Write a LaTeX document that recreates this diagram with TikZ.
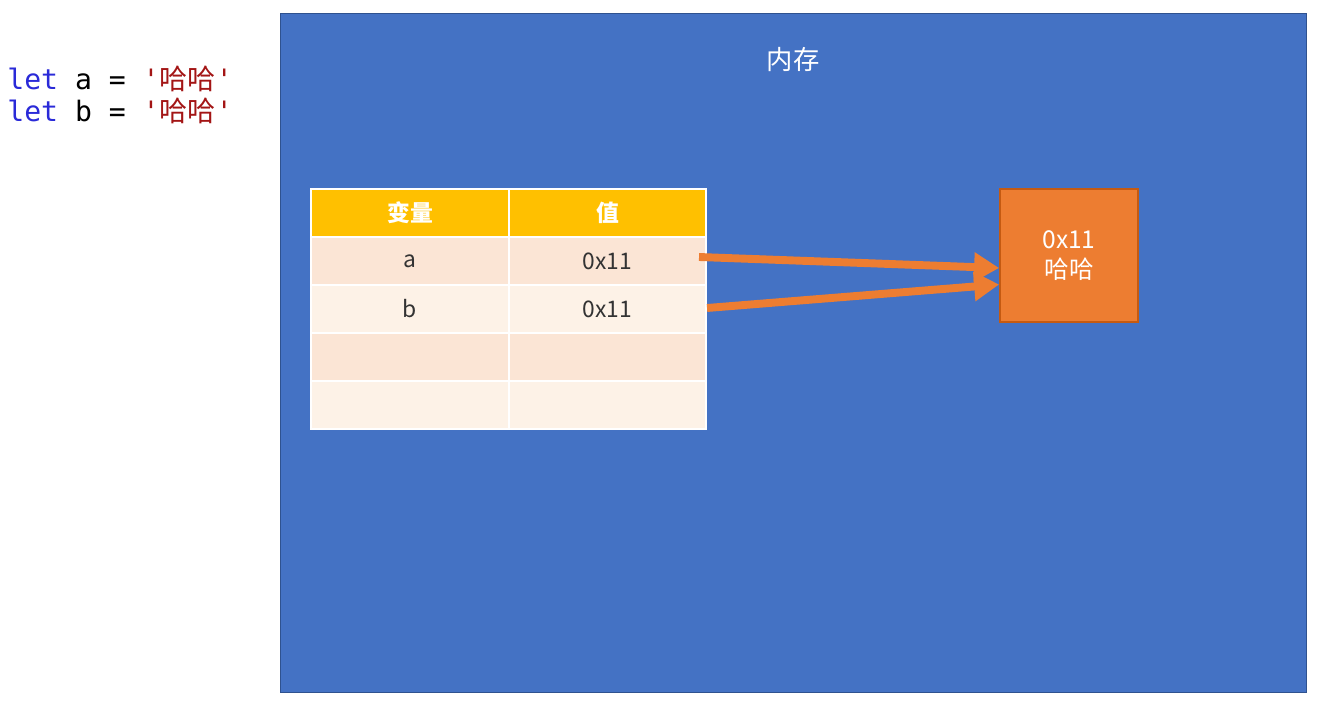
\documentclass[tikz,border=0pt]{standalone}
\usepackage{fontspec}
\setmainfont{Noto Sans CJK SC}
\newfontfamily\codefont{DejaVu Sans Mono}
\newfontfamily\cjk{Noto Sans CJK SC}
\usetikzlibrary{arrows.meta}

\definecolor{memblue}{HTML}{4472C4}
\definecolor{memedge}{HTML}{2F528F}
\definecolor{headgold}{HTML}{FFC000}
\definecolor{rowdark}{HTML}{FBE5D5}
\definecolor{rowlight}{HTML}{FDF2E7}
\definecolor{valorange}{HTML}{ED7D31}
\definecolor{valedge}{HTML}{C55A11}
\definecolor{kwblue}{HTML}{2A2AD8}
\definecolor{strred}{HTML}{A31515}

\tikzset{
  every cell/.style={rectangle, draw=white, line width=1.2pt, minimum height=0.96cm,
    inner sep=0pt, font=\fontsize{13}{15}\selectfont, text=black!80},
  cell name/.style={every cell, minimum width=3.96cm},
  cell value/.style={every cell, minimum width=3.94cm},
  head/.style={fill=headgold, text=white, font=\fontsize{13}{15}\selectfont\bfseries},
  row 1/.style={fill=rowdark},
  row 2/.style={fill=rowlight},
  row 3/.style={fill=rowdark},
  row 4/.style={fill=rowlight},
  pointer/.style={draw=valorange, line width=4.5pt,
    -{Triangle[length=5mm, width=5.6mm]}}
}

\begin{document}
\begin{tikzpicture}[x=0.02cm, y=-0.02cm]

    \useasboundingbox (0,0) rectangle (1339,709);

    % code on the left
    \node [anchor=base west, inner sep=0pt, font=\codefont\fontsize{16}{18}\selectfont] (line-a) at (7,90)
      {{\color{kwblue}let} a = {\color{strred}'{\cjk 哈哈}'}};
    \node [anchor=base west, inner sep=0pt, font=\codefont\fontsize{16}{18}\selectfont] (line-b) at (7,122)
      {{\color{kwblue}let} b = {\color{strred}'{\cjk 哈哈}'}};

    % memory area
    \node [rectangle, draw=memedge, fill=memblue, line width=0.6pt, inner sep=0pt,
      minimum width=20.54cm, minimum height=13.6cm] (memory) at (793.5,353) {};
    \node [text=white, font=\fontsize{15}{17}\selectfont] (memory-title) at (793,60) {内存};

    % table of variables
    \node [cell name, head] (name-0) at (410,213) {变量};
    \node [cell value, head] (val-0) at (607.5,213) {值};

    \foreach \n/\v [count=\i] in {a/0x11, b/0x11, /, /}
      \node [cell name, row \i/.try] (name-\i) at (410,213+48*\i) {\n};

    \foreach \n/\v [count=\i] in {a/0x11, b/0x11, /, /}
      \node [cell value, row \i/.try] (val-\i) at (607.5,213+48*\i) {\v};

    % value in the heap
    \node [rectangle, draw=valedge, fill=valorange, line width=1pt, text=white,
      minimum width=2.76cm, minimum height=2.66cm, align=center,
      font=\fontsize{14}{17}\selectfont] (value) at (1069,255.5) {0x11\\哈哈};

    \draw [pointer] ([xshift=-1.6mm, yshift=0.8mm]val-1.east) -- ([yshift=-2.5mm]value.west);
    \draw [pointer] ([yshift=0.2mm]val-2.east) -- ([yshift=-5.8mm]value.west);

\end{tikzpicture}
\end{document}
